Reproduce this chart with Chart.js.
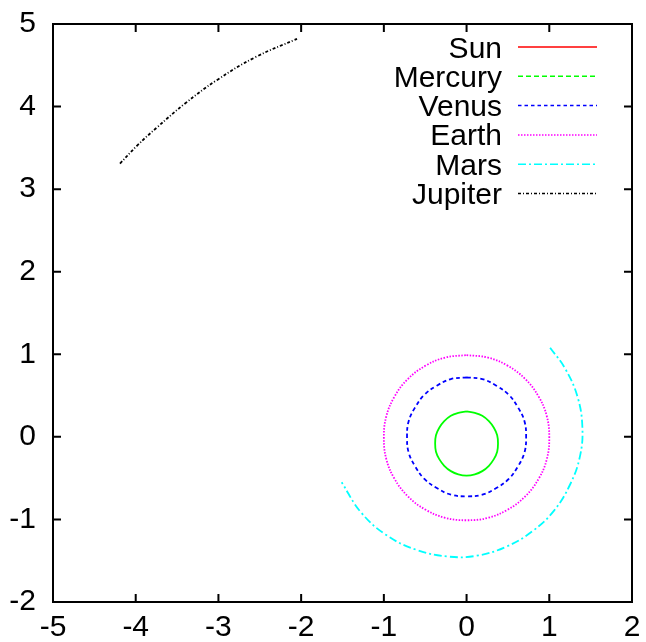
<!DOCTYPE html>
<html lang="en">
<head>
    <meta charset="UTF-8">
    <title>Orbits</title>
    <style>
        body { margin: 0; background: #fff; }
        canvas { display: block; }
    </style>
    <script src="https://cdn.jsdelivr.net/npm/chart.js"></script>
</head>
<body>
<canvas id="mychart" width="646" height="642"></canvas>
<script>
    // tick values on both axes
    const xTicks = [-5, -4, -3, -2, -1, 0, 1, 2];
    const yTicks = [-2, -1, 0, 1, 2, 3, 4, 5];

    const planetNames = ['Sun', 'Mercury', 'Venus', 'Earth', 'Mars', 'Jupiter'];
    const planetColors = ['#ff0000', '#00ff00', '#0000ff', '#ff00ff', '#00ffff', '#000000'];

    // orbit points
    const sun = [{x: 0, y: 0}];

    const mercury = [
        {x: 0, y: 0.31}, {x: 0.10, y: 0.29}, {x: 0.19, y: 0.255}, {x: 0.27, y: 0.19},
        {x: 0.33, y: 0.11}, {x: 0.37, y: 0.02}, {x: 0.38, y: -0.08}, {x: 0.37, y: -0.18},
        {x: 0.33, y: -0.27}, {x: 0.27, y: -0.35}, {x: 0.19, y: -0.415}, {x: 0.10, y: -0.455},
        {x: 0, y: -0.47}, {x: -0.10, y: -0.455}, {x: -0.19, y: -0.415}, {x: -0.27, y: -0.35},
        {x: -0.33, y: -0.27}, {x: -0.37, y: -0.18}, {x: -0.38, y: -0.08}, {x: -0.37, y: 0.02},
        {x: -0.33, y: 0.11}, {x: -0.27, y: 0.19}, {x: -0.19, y: 0.255}, {x: -0.10, y: 0.29},
        {x: 0, y: 0.31}
    ];

    const venus = [
        {x: 0, y: 0.72}, {x: 0.19, y: 0.70}, {x: 0.36, y: 0.62}, {x: 0.51, y: 0.51},
        {x: 0.62, y: 0.36}, {x: 0.70, y: 0.19}, {x: 0.72, y: 0}, {x: 0.70, y: -0.19},
        {x: 0.62, y: -0.36}, {x: 0.51, y: -0.51}, {x: 0.36, y: -0.62}, {x: 0.19, y: -0.70},
        {x: 0, y: -0.72}, {x: -0.19, y: -0.70}, {x: -0.36, y: -0.62}, {x: -0.51, y: -0.51},
        {x: -0.62, y: -0.36}, {x: -0.70, y: -0.19}, {x: -0.72, y: 0}, {x: -0.70, y: 0.19},
        {x: -0.62, y: 0.36}, {x: -0.51, y: 0.51}, {x: -0.36, y: 0.62}, {x: -0.19, y: 0.70},
        {x: 0, y: 0.72}
    ];

    const earth = [
        {x: 0, y: 0.99}, {x: 0.26, y: 0.96}, {x: 0.50, y: 0.86}, {x: 0.71, y: 0.70},
        {x: 0.87, y: 0.49}, {x: 0.97, y: 0.25}, {x: 1.0, y: -0.01}, {x: 0.97, y: -0.27},
        {x: 0.87, y: -0.51}, {x: 0.71, y: -0.72}, {x: 0.50, y: -0.88}, {x: 0.26, y: -0.98},
        {x: 0, y: -1.01}, {x: -0.26, y: -0.98}, {x: -0.50, y: -0.88}, {x: -0.71, y: -0.72},
        {x: -0.87, y: -0.51}, {x: -0.97, y: -0.27}, {x: -1.0, y: -0.01}, {x: -0.97, y: 0.25},
        {x: -0.87, y: 0.49}, {x: -0.71, y: 0.70}, {x: -0.50, y: 0.86}, {x: -0.26, y: 0.96},
        {x: 0, y: 0.99}
    ];

    const mars = [
        {x: 1.01, y: 1.08}, {x: 1.19, y: 0.83}, {x: 1.34, y: 0.49}, {x: 1.40, y: 0.12},
        {x: 1.37, y: -0.24}, {x: 1.25, y: -0.58}, {x: 1.06, y: -0.89}, {x: 0.80, y: -1.14},
        {x: 0.48, y: -1.33}, {x: 0.12, y: -1.44}, {x: -0.22, y: -1.45}, {x: -0.60, y: -1.37},
        {x: -0.97, y: -1.19}, {x: -1.28, y: -0.91}, {x: -1.51, y: -0.55}
    ];

    const jupiter = [
        {x: -4.19, y: 3.31}, {x: -3.98, y: 3.53}, {x: -3.74, y: 3.75}, {x: -3.40, y: 4.04},
        {x: -3.02, y: 4.32}, {x: -2.55, y: 4.60}, {x: -2.05, y: 4.82}
    ];

    const orbits = [sun, mercury, venus, earth, mars, jupiter];
    // dash patterns in the key, and on the curves (mercury comes out solid there)
    const keyDashes = [[], [5, 3], [3.5, 3], [1.5, 1.5], [8, 3, 2, 3], [3, 2, 1, 2]];
    const curveDashes = [[], [], [4, 3], [1.5, 1.5], [8, 3, 2, 3], [3, 2, 1, 2]];

    const fontFamily = '"Liberation Sans", Arial, Helvetica, sans-serif';
    const labelFont = {family: fontFamily, size: 30};

    // gnuplot style box with inward ticks on all four sides
    const framePlugin = {
        id: 'frame',
        afterDraw(chart) {
            const c = chart.ctx;
            const a = chart.chartArea;
            const xs = chart.scales.x;
            const ys = chart.scales.y;
            c.save();
            c.strokeStyle = '#000';
            c.lineWidth = 2;
            c.strokeRect(a.left, a.top, a.right - a.left, a.bottom - a.top);
            c.beginPath();
            xTicks.forEach(v => {
                const px = xs.getPixelForValue(v);
                c.moveTo(px, a.bottom); c.lineTo(px, a.bottom - 8);
                c.moveTo(px, a.top); c.lineTo(px, a.top + 8);
            });
            yTicks.forEach(v => {
                const py = ys.getPixelForValue(v);
                c.moveTo(a.left, py); c.lineTo(a.left + 8, py);
                c.moveTo(a.right, py); c.lineTo(a.right - 8, py);
            });
            c.stroke();
            c.restore();
        }
    };

    // key in the top right corner: text right aligned, line sample after it
    const keyPlugin = {
        id: 'key',
        afterDraw(chart) {
            const c = chart.ctx;
            c.save();
            c.font = '30px ' + fontFamily;
            c.textAlign = 'right';
            c.textBaseline = 'alphabetic';
            chart.data.datasets.forEach((ds, i) => {
                const y = 47 + i * 29.3;
                c.fillStyle = '#000';
                c.fillText(ds.label, 502, y + 10.5);
                c.strokeStyle = ds.borderColor;
                c.lineWidth = 1.5;
                c.setLineDash(keyDashes[i]);
                c.beginPath();
                c.moveTo(518, y);
                c.lineTo(597, y);
                c.stroke();
            });
            c.restore();
        }
    };

    const datasets = orbits.map((pts, i) => ({
        label: planetNames[i],
        data: pts,
        showLine: true,
        borderColor: planetColors[i],
        borderWidth: 1.8,
        borderDash: curveDashes[i],
        pointRadius: 0,
        tension: 0.4,
        fill: false
    }));

    new Chart(document.getElementById('mychart'), {
        type: 'scatter',
        data: {datasets: datasets},
        options: {
            responsive: false,
            animation: false,
            layout: {padding: {top: 24, right: 14, left: 0, bottom: 0}},
            plugins: {legend: {display: false}, tooltip: {enabled: false}},
            scales: {
                x: {
                    type: 'linear', min: -5, max: 2,
                    afterBuildTicks: s => { s.ticks = xTicks.map(v => ({value: v})); },
                    ticks: {font: labelFont, color: '#000', padding: 8, maxRotation: 0},
                    grid: {display: false, drawTicks: false},
                    border: {display: false},
                    afterFit: s => {
                        s.height = 40;
                        s.paddingLeft = 0;
                        s.paddingRight = 0;
                    }
                },
                y: {
                    type: 'linear', min: -2, max: 5,
                    afterBuildTicks: s => { s.ticks = yTicks.map(v => ({value: v})); },
                    ticks: {font: labelFont, color: '#000', padding: 17},
                    grid: {display: false, drawTicks: false},
                    border: {display: false},
                    afterFit: s => {
                        s.width = 53;
                        s.paddingTop = 0;
                        s.paddingBottom = 0;
                    }
                }
            }
        },
        plugins: [framePlugin, keyPlugin]
    });
</script>
</body>
</html>
